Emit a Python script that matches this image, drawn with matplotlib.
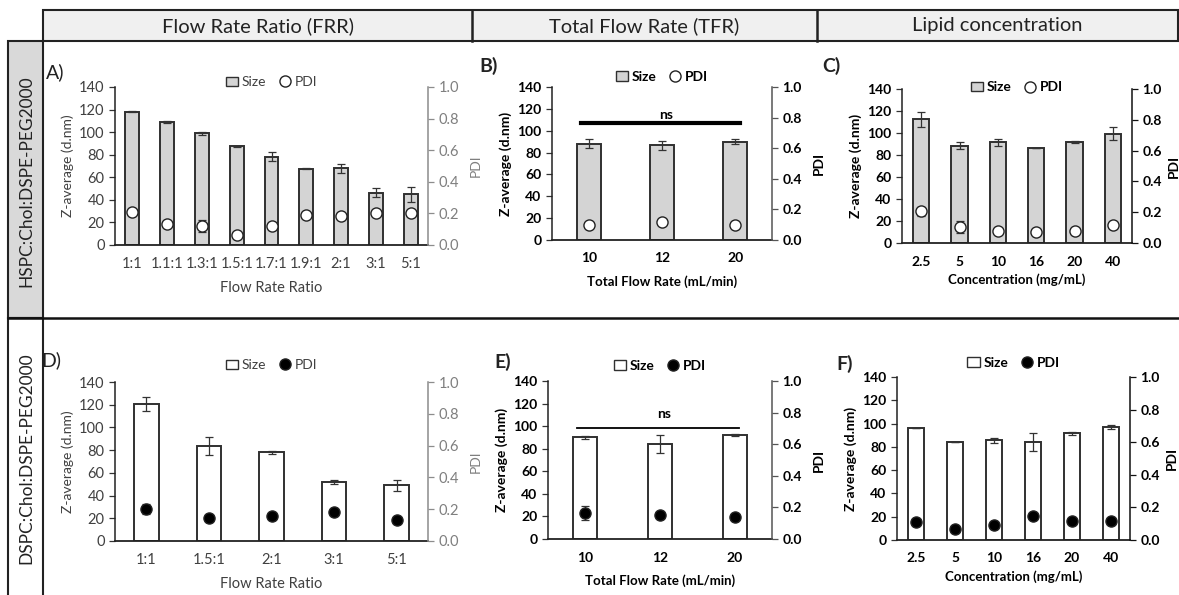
import matplotlib
matplotlib.use("Agg")
import matplotlib.pyplot as plt
from matplotlib.patches import Rectangle, Patch
from matplotlib.lines import Line2D
import numpy as np

plt.rcParams['font.family'] = ['Lato', 'DejaVu Sans']

# ---- data ----
frr_a = ['1:1', '1.1:1', '1.3:1', '1.5:1', '1.7:1', '1.9:1', '2:1', '3:1', '5:1']
size_a = [118, 109, 99, 87.5, 78, 67.5, 68, 46.5, 45]
size_a_err = [0.5, 1, 1.2, 0.5, 4, 0.3, 4, 4, 6.5]
pdi_a = [0.21, 0.135, 0.12, 0.065, 0.12, 0.19, 0.185, 0.205, 0.20]
pdi_a_err = [0, 0, 0.04, 0, 0, 0, 0, 0.01, 0.01]

tfr_b = ['10', '12', '20']
size_b = [88, 86.5, 90]
size_b_err = [4, 4, 2]
pdi_b = [0.10, 0.12, 0.10]
pdi_b_err = [0, 0, 0]

conc_c = ['2.5', '5', '10', '16', '20', '40']
size_c = [112.5, 88.5, 91.5, 86.5, 92, 99.5]
size_c_err = [7, 3, 3, 0, 1, 6]
pdi_c = [0.205, 0.105, 0.08, 0.07, 0.08, 0.12]
pdi_c_err = [0.03, 0.04, 0, 0, 0, 0]

frr_d = ['1:1', '1.5:1', '2:1', '3:1', '5:1']
size_d = [120.5, 84, 78, 52, 49]
size_d_err = [6, 8, 1.5, 1.5, 5]
pdi_d = [0.20, 0.145, 0.16, 0.185, 0.135]
pdi_d_err = [0.03, 0, 0, 0, 0]

tfr_e = ['10', '12', '20']
size_e = [90, 84, 92]
size_e_err = [1, 8, 1]
pdi_e = [0.165, 0.155, 0.14]
pdi_e_err = [0.045, 0, 0]

conc_f = ['2.5', '5', '10', '16', '20', '40']
size_f = [96, 84, 85.5, 84, 91.5, 97]
size_f_err = [0, 0, 2, 7.5, 1.5, 1.5]
pdi_f = [0.11, 0.07, 0.095, 0.145, 0.115, 0.115]
pdi_f_err = [0, 0, 0, 0, 0, 0]

headers = ['Flow Rate Ratio (FRR)', 'Total Flow Rate (TFR)', 'Lipid concentration']
rows = ['HSPC:Chol:DSPE-PEG2000', 'DSPC:Chol:DSPE-PEG2000']

W, H = 1179, 595
fig = plt.figure(figsize=(W / 100, H / 100), dpi=100)


def fx(x):
    return x / W


def fy(y):
    return 1 - y / H


def rect_px(x0, y0, x1, y1):
    return [fx(x0), fy(y1), fx(x1) - fx(x0), (y1 - y0) / H]


# ---- table frame ----
fig.patches.append(Rectangle((fx(43), fy(41)), fx(1178) - fx(43), 31 / H,
                             transform=fig.transFigure, facecolor='#f0f0f0',
                             edgecolor='#222222', lw=1.5))
fig.patches.append(Rectangle((fx(8), fy(318)), fx(43) - fx(8), 277 / H,
                             transform=fig.transFigure, facecolor='#d9d9d9',
                             edgecolor='#222222', lw=1.5))
fig.patches.append(Rectangle((fx(8), fy(600)), fx(43) - fx(8), 282 / H,
                             transform=fig.transFigure, facecolor='white',
                             edgecolor='#222222', lw=1.5))
for xs in [472, 817]:
    fig.add_artist(Line2D([fx(xs), fx(xs)], [fy(10), fy(41)], color='#222222', lw=1.8))
fig.add_artist(Line2D([fx(8), fx(1179)], [fy(318), fy(318)], color='#111111', lw=1.8))

for txt, x0, x1 in zip(headers, [43, 472, 817], [472, 817, 1178]):
    fig.text(fx((x0 + x1) / 2), fy(26), txt, ha='center', va='center',
             fontsize=14.5, color='#222222')
for txt, yc in zip(rows, [181, 458]):
    fig.text(fx(26), fy(yc), txt, ha='center', va='center', rotation=90,
             fontsize=12.5, color='#222222')


def panel(rect, cats, size, size_err, pdi, pdi_err, letter, letter_xy, xlabel,
          width, filled, bold, right_col, leg_y, xpad, rpad, ns=None):
    ax = fig.add_axes(rect_px(*rect))
    x = np.arange(len(cats))
    weight = 'bold' if bold else 'normal'
    tcol = 'black' if bold else '#404040'
    fs = 10 if bold else 10.5
    barc = 'white' if filled else '#d4d4d4'
    ax.bar(x, size, width=width, color=barc, edgecolor='#303030', linewidth=1.4,
           zorder=2)
    ax.errorbar(x, size, yerr=size_err, fmt='none', ecolor='#333333',
                elinewidth=0.9, capsize=3, capthick=0.9, zorder=3)
    ax.set_ylim(0, 140)
    ax.set_xlim(-0.5, len(cats) - 0.5)
    ax.set_yticks(range(0, 141, 20))
    ax.set_xticks(x)
    ax.set_xticklabels(cats)
    ax.tick_params(axis='x', length=0, pad=9, labelsize=fs, labelcolor=tcol)
    ax.tick_params(axis='y', length=4, width=0.9, labelsize=fs, labelcolor=tcol,
                   color='#333333')
    for lab in ax.get_xticklabels() + ax.get_yticklabels():
        lab.set_fontweight(weight)
    for s in ['top', 'right']:
        ax.spines[s].set_visible(False)
    ax.spines['left'].set_color('#222222')
    ax.spines['bottom'].set_color('#222222')
    ax.spines['left'].set_linewidth(1.1)
    ax.spines['bottom'].set_linewidth(1.3)
    ax.set_ylabel('Z-average (d.nm)', fontsize=10, fontweight=weight,
                  color=tcol, labelpad=4)
    ax.set_xlabel(xlabel, fontsize=fs if not bold else 9.5, fontweight=weight,
                  color=tcol, labelpad=xpad)

    ax2 = ax.twinx()
    ax2.set_ylim(0, 1.0)
    ax2.set_yticks(np.arange(0, 1.01, 0.2))
    ax2.set_yticklabels(['%.1f' % v for v in np.arange(0, 1.01, 0.2)])
    for s in ['top', 'left', 'bottom']:
        ax2.spines[s].set_visible(False)
    ax2.spines['right'].set_color(right_col)
    ax2.spines['right'].set_linewidth(1.1)
    rl_col = '#7f7f7f' if not bold else 'black'
    ax2.tick_params(axis='y', length=4, width=0.9, labelsize=fs,
                    labelcolor=rl_col, color=right_col)
    for lab in ax2.get_yticklabels():
        lab.set_fontweight(weight)
    ax2.set_ylabel('PDI', fontsize=10, fontweight=weight, color=rl_col,
                   labelpad=rpad)

    mfc = 'black' if filled else 'white'
    ax2.errorbar(x, pdi, yerr=pdi_err, fmt='none', ecolor='#333333',
                 elinewidth=0.9, capsize=3, capthick=0.9, zorder=4)
    ax2.plot(x, pdi, 'o', ms=8, mfc=mfc, mec='#222222', mew=1.0, zorder=5)

    if ns is not None:
        lw, yl, yt = ns
        ax.plot([-0.11, 2.06], [yl, yl], color='black', lw=lw, zorder=4)
        ax.text(1.05, yt, 'ns', ha='center', va='center', fontsize=10,
                fontweight='bold')

    handles = [Patch(facecolor=barc, edgecolor='#303030', linewidth=1.0),
               Line2D([], [], marker='o', ls='none', ms=8, mfc=mfc,
                      mec='#222222', mew=1.0)]
    ax.legend(handles, ['Size', 'PDI'], loc='center', bbox_to_anchor=(0.5, leg_y),
              ncol=2, frameon=False, handlelength=0.9, handletextpad=0.25,
              columnspacing=0.9, borderaxespad=0,
              prop={'size': 10, 'weight': weight}, labelcolor=tcol)

    fig.text(fx(letter_xy[0]), fy(letter_xy[1]), letter, ha='center',
             va='center', fontsize=14, fontweight=weight, color='#222222')
    return ax


panel((115, 87, 428, 245), frr_a, size_a, size_a_err, pdi_a, pdi_a_err, 'A)',
      (55, 72), 'Flow Rate Ratio', 0.4, False, False, '#8c8c8c', 1.03, 7, 8)
panel((552, 87, 772, 240), tfr_b, size_b, size_b_err, pdi_b, pdi_b_err, 'B)',
      (489, 66), 'Total Flow Rate (mL/min)', 0.33, False, True, '#555555', 1.065,
      8, 8, ns=(3.0, 107.5, 114))
panel((902, 89, 1132, 243), conc_c, size_c, size_c_err, pdi_c, pdi_c_err, 'C)',
      (831, 66), 'Concentration (mg/mL)', 0.42, False, True, '#111111', 1.01,
      4, 4)
panel((115, 382, 428, 541), frr_d, size_d, size_d_err, pdi_d, pdi_d_err, 'D)',
      (51, 360), 'Flow Rate Ratio', 0.39, True, False, '#8c8c8c', 1.105, 7, 8)
panel((548, 381, 772, 539), tfr_e, size_e, size_e_err, pdi_e, pdi_e_err, 'E)',
      (503, 362), 'Total Flow Rate (mL/min)', 0.32, True, True, '#555555', 1.095,
      8, 8, ns=(1.3, 98, 111))
panel((897, 377, 1130, 540), conc_f, size_f, size_f_err, pdi_f, pdi_f_err, 'F)',
      (845, 364), 'Concentration (mg/mL)', 0.41, True, True, '#111111', 1.085,
      4, 4)

fig.savefig('out.png', dpi=100)
